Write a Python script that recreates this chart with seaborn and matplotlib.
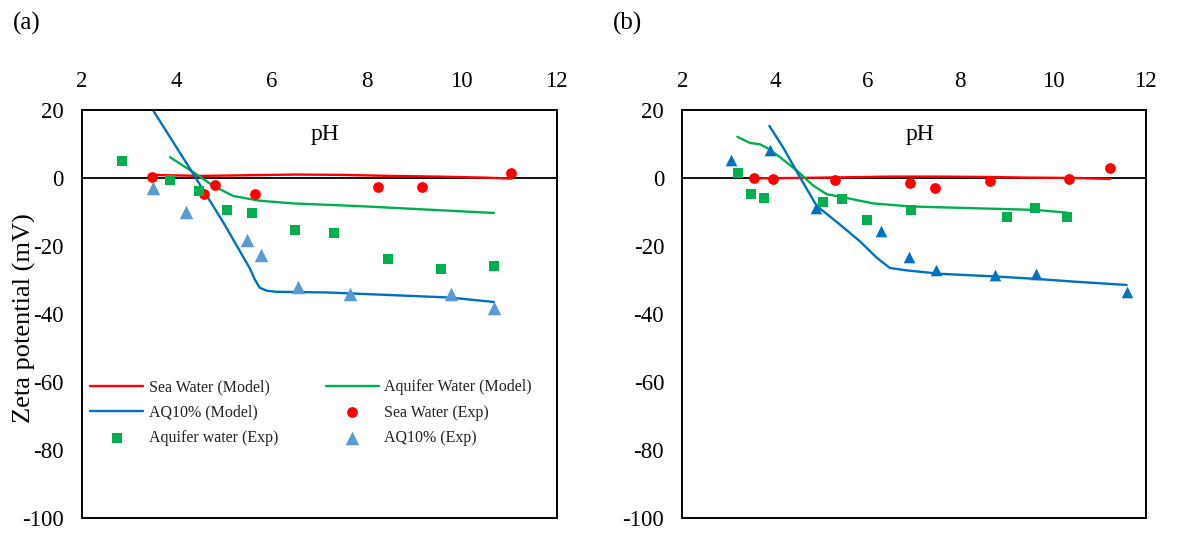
import matplotlib
matplotlib.use("Agg")
import matplotlib.pyplot as plt
import seaborn as sns
import pandas as pd

# ---------------- data: panel (a) ----------------
a_sw_model_x = [3.5, 4.5, 5.5, 6.5, 7.5, 8.5, 9.5, 10.5, 11.05]
a_sw_model_y = [0.9, 0.6, 0.8, 1.0, 0.9, 0.6, 0.4, 0.1, -0.2]
a_aw_model_x = [3.86, 4.35, 4.77, 5.19, 5.75, 6.46, 7.86, 9.26, 10.68]
a_aw_model_y = [6.1, 1.7, -2.3, -5.3, -6.7, -7.5, -8.3, -9.3, -10.3]
a_aq_model_x = [3.49, 4.35, 5.0, 5.4, 5.54, 5.65, 5.75, 5.9, 6.1, 7.16, 8.56, 9.75, 10.68]
a_aq_model_y = [20.2, 1.2, -13.5, -23.2, -26.6, -30.0, -32.3, -33.2, -33.5, -33.7, -34.5, -35.2, -36.5]

a_sw_exp_x = [3.49, 4.58, 4.81, 5.65, 8.24, 9.16, 11.05]
a_sw_exp_y = [0.4, -4.8, -2.1, -4.8, -2.6, -2.6, 1.5]
a_aw_exp_x = [2.84, 3.87, 4.47, 5.07, 5.59, 6.50, 7.31, 8.44, 9.56, 10.68]
a_aw_exp_y = [4.9, -0.5, -3.8, -9.5, -10.4, -15.2, -16.1, -23.8, -26.8, -25.8]
a_aq_exp_x = [3.51, 4.19, 5.49, 5.77, 6.55, 7.65, 9.77, 10.68]
a_aq_exp_y = [-3.1, -10.0, -18.4, -22.6, -32.2, -34.3, -34.2, -38.2]

# ---------------- data: panel (b) ----------------
b_sw_model_x = [3.55, 4.5, 5.5, 6.5, 7.5, 8.5, 9.5, 10.5, 11.23]
b_sw_model_y = [-0.1, 0.0, 0.2, 0.4, 0.4, 0.3, 0.1, 0.0, -0.3]
b_aw_model_x = [3.19, 3.46, 3.68, 3.86, 4.11, 4.47, 4.83, 5.12, 5.40, 6.12, 6.94, 8.28, 9.61, 10.30]
b_aw_model_y = [12.1, 10.3, 9.9, 8.6, 6.1, 2.2, -2.3, -4.8, -5.5, -7.5, -8.4, -8.9, -9.4, -10.2]
b_aq_model_x = [3.88, 4.18, 4.54, 4.90, 5.40, 5.83, 6.19, 6.48, 6.84, 7.56, 8.75, 9.63, 10.44, 11.59]
b_aq_model_y = [15.3, 8.9, 0.2, -8.2, -13.7, -18.6, -23.4, -26.5, -27.2, -28.2, -29.0, -29.7, -30.5, -31.5]

b_sw_exp_x = [3.55, 3.96, 5.30, 6.91, 7.46, 8.63, 10.35, 11.23]
b_sw_exp_y = [0.0, -0.3, -0.5, -1.6, -3.0, -0.8, -0.2, 3.0]
b_aw_exp_x = [3.21, 3.48, 3.77, 5.03, 5.44, 5.99, 6.94, 9.01, 9.61, 10.30]
b_aw_exp_y = [1.4, -4.8, -5.9, -7.1, -6.2, -12.4, -9.4, -11.4, -8.8, -11.4]
b_aq_exp_x = [3.06, 3.90, 4.88, 6.28, 6.90, 7.47, 8.75, 9.63, 11.59]
b_aq_exp_y = [5.3, 8.3, -8.7, -15.6, -23.4, -27.0, -28.5, -28.2, -33.5]

x_ticks = [2, 4, 6, 8, 10, 12]
y_ticks = [-100, -80, -60, -40, -20, 0, 20]

labels = ["Sea Water (Model)", "Aquifer Water (Model)", "AQ10% (Model)",
          "Sea Water (Exp)", "Aquifer water (Exp)", "AQ10% (Exp)"]

RED = "#FF0000"
GREEN = "#00B050"
BLUE = "#0070C0"
LBLUE = "#5B9BD5"

sns.set_theme(style="white")
plt.rcParams["font.family"] = ["Liberation Serif", "DejaVu Serif"]
plt.rcParams["axes.unicode_minus"] = False

fig = plt.figure(figsize=(11.8, 5.34), dpi=100)
ax_a = fig.add_axes([0.0692, 0.0305, 0.4025, 0.7635])
ax_b = fig.add_axes([0.5782, 0.0305, 0.3927, 0.7635])


def draw(ax, sw_m, aw_m, aq_m, sw_e, aw_e, aq_e, tri_color, sizes):
    h = {}
    for (xs, ys), col, lab in [(sw_m, RED, labels[0]), (aw_m, GREEN, labels[1]), (aq_m, BLUE, labels[2])]:
        df = pd.DataFrame({"x": xs, "y": ys})
        sns.lineplot(data=df, x="x", y="y", ax=ax, color=col, lw=1.7,
                     estimator=None, sort=False, label=lab, legend=False)
        h[lab] = ax.lines[-1]
    for (xs, ys), col, mk, s, lab in [(sw_e, RED, "o", sizes[0], labels[3]),
                                       (aw_e, GREEN, "s", sizes[1], labels[4]),
                                       (aq_e, tri_color, "^", sizes[2], labels[5])]:
        df = pd.DataFrame({"x": xs, "y": ys})
        sns.scatterplot(data=df, x="x", y="y", ax=ax, color=col, marker=mk, s=s,
                        linewidth=0, label=lab, legend=False, zorder=4)
        h[lab] = ax.collections[-1]
    ax.axhline(0, color="black", lw=1.3, zorder=1)
    ax.set_xlim(2, 12)
    ax.set_ylim(-100, 20)
    ax.set_xticks(x_ticks)
    ax.set_yticks(y_ticks)
    ax.xaxis.tick_top()
    ax.tick_params(axis="both", length=0, labelsize=16.5, colors="black")
    ax.tick_params(axis="x", pad=13)
    ax.tick_params(axis="y", pad=13)
    ax.set_xlabel("")
    ax.set_ylabel("")
    for sp in ax.spines.values():
        sp.set_color("black")
        sp.set_linewidth(1.4)
    ax.grid(False)
    ax.text(0.512, 0.939, "pH", transform=ax.transAxes, ha="center", va="center",
            fontsize=17, color="black")
    return h


h = draw(ax_a,
         (a_sw_model_x, a_sw_model_y), (a_aw_model_x, a_aw_model_y), (a_aq_model_x, a_aq_model_y),
         (a_sw_exp_x, a_sw_exp_y), (a_aw_exp_x, a_aw_exp_y), (a_aq_exp_x, a_aq_exp_y),
         LBLUE, (60, 62, 95))
draw(ax_b,
     (b_sw_model_x, b_sw_model_y), (b_aw_model_x, b_aw_model_y), (b_aq_model_x, b_aq_model_y),
     (b_sw_exp_x, b_sw_exp_y), (b_aw_exp_x, b_aw_exp_y), (b_aq_exp_x, b_aq_exp_y),
     BLUE, (60, 62, 70))

order = [labels[0], labels[2], labels[4], labels[1], labels[3], labels[5]]
leg = ax_a.legend([h[k] for k in order], order, ncol=2, frameon=False,
                  fontsize=11.5, loc="upper left", bbox_to_anchor=(0.005, 0.355),
                  handlelength=3.3, handletextpad=0.35, columnspacing=3.0,
                  labelspacing=0.58, borderaxespad=0.0)
for t in leg.get_texts():
    t.set_color("#222222")

ax_a.set_ylabel("Zeta potential (mV)", fontsize=19, color="black")
ax_a.yaxis.set_label_coords(-0.097, 0.49)

fig.text(0.0105, 0.957, "(a)", fontsize=18, ha="left", va="center", color="black")
fig.text(0.519, 0.957, "(b)", fontsize=18, ha="left", va="center", color="black")

fig.savefig("out.png", dpi=100)
